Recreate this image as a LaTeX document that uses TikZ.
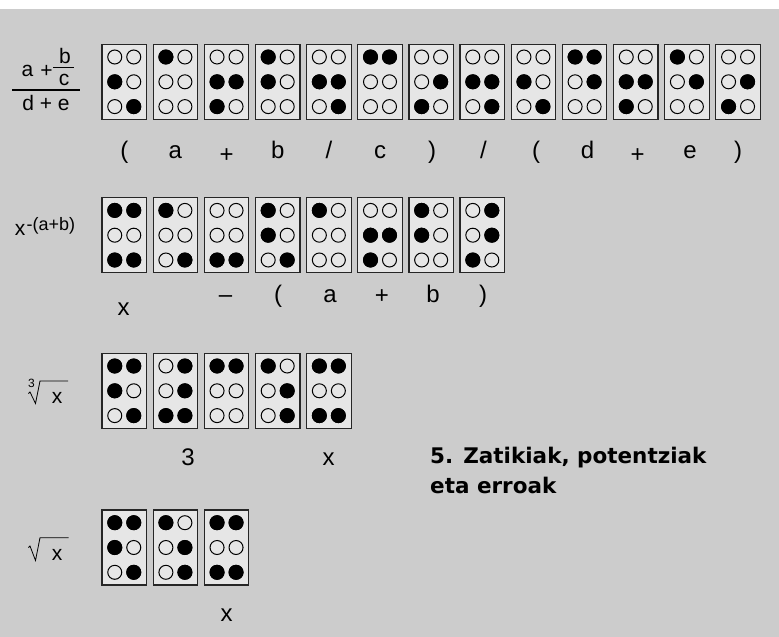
\documentclass[tikz,border=0pt]{standalone}
\usepackage{fontspec}
\setmainfont{Liberation Sans}
\newfontfamily\titlefont{DejaVu Sans}
\definecolor{bg}{HTML}{CCCCCC}
\definecolor{cellfill}{HTML}{E6E6E6}
\tikzset{
  cellbox/.style={draw=black!85, line width=1.2pt, fill=cellfill, minimum width=44.5pt, minimum height=75pt, inner sep=0pt, outer sep=0pt},
  lbl/.style={font=\fontsize{24}{24}\selectfont, inner sep=0pt, anchor=base},
  lft/.style={font=\fontsize{21}{21}\selectfont, inner sep=0pt, anchor=base},
  supfont/.style={font=\fontsize{18}{18}\selectfont, inner sep=0pt, anchor=base west},
  idxfont/.style={font=\fontsize{12}{12}\selectfont, inner sep=0pt, anchor=base},
  ttl/.style={font=\titlefont\bfseries\fontsize{21.5}{21.5}\selectfont, inner sep=0pt, anchor=base west},
  opendot/.style={draw=black, line width=1pt},
  fulldot/.style={fill=black},
  radical/.style={draw=black, line width=0.8pt},
  fracbar/.style={draw=black, line width=1.3pt}
}
\newcommand\brl[4]{%
  \node[cellbox] (#1) at ({#2+22.25},{#3+37.5}) {};
  \foreach \dd in {1,...,6}{%
    \pgfmathsetmacro\dx{\dd>3 ? 9.5 : -9.5}%
    \pgfmathsetmacro\dy{(mod(\dd-1,3)-1)*24.8}%
    \draw[opendot] ([shift={(\dx,\dy)}]#1.center) circle[radius=7pt];
  }%
  \foreach \dd in {#4}{%
    \pgfmathsetmacro\dx{\dd>3 ? 9.5 : -9.5}%
    \pgfmathsetmacro\dy{(mod(\dd-1,3)-1)*24.8}%
    \fill[fulldot] ([shift={(\dx,\dy)}]#1.center) circle[radius=7.5pt];
  }%
}
\begin{document}
\begin{tikzpicture}[x=1pt,y=-1pt]
\useasboundingbox (0,0) rectangle (779,637);
\fill[white] (0,0) rectangle (779,637);
\fill[bg] (0,9) rectangle (779,637);

% Row 1
\brl{a1}{102}{44.3}{2,6}
\brl{a2}{153.15}{44.3}{1}
\brl{a3}{204.3}{44.3}{2,3,5}
\brl{a4}{255.45}{44.3}{1,2}
\brl{a5}{306.6}{44.3}{2,5,6}
\brl{a6}{357.75}{44.3}{1,4}
\brl{a7}{408.9}{44.3}{3,5}
\brl{a8}{460.05}{44.3}{2,5,6}
\brl{a9}{511.2}{44.3}{2,6}
\brl{a10}{562.35}{44.3}{1,4,5}
\brl{a11}{613.5}{44.3}{2,3,5}
\brl{a12}{664.65}{44.3}{1,5}
\brl{a13}{715.8}{44.3}{3,5}

\node[lbl] (la1) at (124.25,158.5) {(};
\node[lbl] (la2) at (175.4,158.5) {a};
\node[lbl,anchor=center] (la3) at (226.55,156) {+};
\node[lbl] (la4) at (277.7,158.5) {b};
\node[lbl] (la5) at (328.85,158.5) {/};
\node[lbl] (la6) at (380,158.5) {c};
\node[lbl] (la7) at (432,158.5) {)};
\node[lbl] (la8) at (483.5,158.5) {/};
\node[lbl] (la9) at (536,158.5) {(};
\node[lbl] (la10) at (587.5,158.5) {d};
\node[lbl,anchor=center] (la11) at (637.5,156) {+};
\node[lbl] (la12) at (690,158.5) {e};
\node[lbl] (la13) at (738.05,158.5) {)};

% fraction label
\node[lft] (fa) at (27.5,76) {a};
\node[lft,anchor=center] (fplus) at (46.5,71.5) {+};
\node[lft] (fb) at (65,63) {b};
\node[lft] (fc) at (64,85) {c};
\draw[draw=black, line width=1.1pt] (53,67.7) -- (74,67.7);
\draw[fracbar] (12,90) -- (80,90);
\node[lft] (fde) at (46,110.7) {d + e};

% Row 2
\brl{b1}{102}{197.7}{1,3,4,6}
\brl{b2}{153.15}{197.7}{1,6}
\brl{b3}{204.3}{197.7}{3,6}
\brl{b4}{255.45}{197.7}{1,2,6}
\brl{b5}{306.6}{197.7}{1}
\brl{b6}{357.75}{197.7}{2,3,5}
\brl{b7}{408.9}{197.7}{1,2}
\brl{b8}{460.05}{197.7}{3,4,5}

\node[lbl] (lb1) at (123.5,315) {x};
\node[lbl] (lb3) at (225.5,302) {–};
\node[lbl] (lb4) at (278,302) {(};
\node[lbl] (lb5) at (330,302) {a};
\node[lbl,anchor=center] (lb6) at (382,297) {+};
\node[lbl] (lb7) at (433,302) {b};
\node[lbl] (lb8) at (483,302) {)};

\node[lft] (px) at (20,235) {x};
\node[supfont] (pe) at (26.5,230) {-(a+b)};

% Row 3
\brl{c1}{102}{353.3}{1,2,4,6}
\brl{c2}{153.15}{353.3}{3,4,5,6}
\brl{c3}{204.3}{353.3}{1,4}
\brl{c4}{255.45}{353.3}{1,5,6}
\brl{c5}{306.6}{353.3}{1,3,4,6}

\node[lbl] (lc2) at (188,465) {3};
\node[lbl] (lc5) at (328.5,465) {x};

\node[idxfont] (r3n) at (31.5,387) {3};
\draw[radical] (28.5,393.5) -- (30,392) -- (35.5,403.5) -- (40,381) -- (68,381);
\node[lft] (r3x) at (57,403.5) {x};

% Row 4
\brl{d1}{102}{510}{1,2,4,6}
\brl{d2}{153.15}{510}{1,5,6}
\brl{d3}{204.3}{510}{1,3,4,6}

\node[lbl] (ld3) at (226.7,621.7) {x};

\draw[radical] (28.5,547.5) -- (30,546) -- (35.5,560.5) -- (40,537.7) -- (68.5,537.7);
\node[lft] (r4x) at (57,560.5) {x};

% Title
\node[ttl] (t1) at (430,463) {5. Zatikiak, potentziak};
\node[ttl] (t2) at (430,493) {eta erroak};
\end{tikzpicture}
\end{document}
